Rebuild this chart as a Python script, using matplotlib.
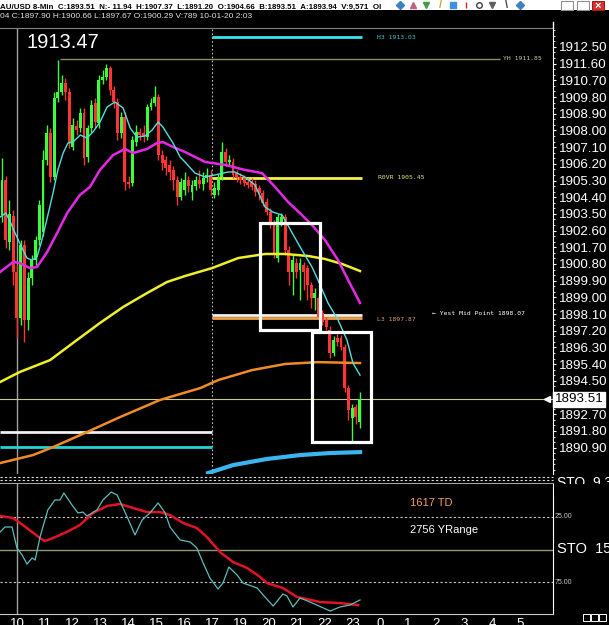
import matplotlib
matplotlib.use('Agg')
import matplotlib.pyplot as plt
from matplotlib.patches import Rectangle
from matplotlib.lines import Line2D
from matplotlib.ticker import MultipleLocator

plt.rcParams['font.family'] = ['Liberation Sans', 'DejaVu Sans']

W, H = 609, 625

# 8-min bars
opens = [1903.44, 1905.33, 1901.98, 1903.39, 1900.37, 1897.89, 1901.82, 1897.78, 1900.04, 1901.01,
         1902.09, 1902.52, 1906.40, 1907.86, 1905.49, 1909.75, 1910.07, 1910.56, 1910.07, 1907.11,
         1908.24, 1908.13, 1908.94, 1906.57, 1908.13, 1909.48, 1908.40, 1910.72, 1910.88, 1911.36,
         1910.18, 1909.53, 1907.86, 1908.72, 1905.22, 1905.16, 1907.37, 1907.91, 1907.86, 1907.64,
         1909.26, 1909.48, 1909.80, 1906.67, 1906.40, 1906.14, 1905.87, 1905.33, 1904.41, 1904.79,
         1905.33, 1904.68, 1905.00, 1905.33, 1905.11, 1905.43, 1905.60, 1904.52, 1904.79, 1905.49,
         1906.84, 1906.30, 1906.30, 1905.70, 1905.49, 1905.43, 1905.22, 1905.22, 1905.11, 1904.90,
         1904.63, 1904.14, 1903.60, 1902.90, 1901.12, 1903.06, 1903.33, 1901.55, 1900.37, 1900.85,
         1900.47, 1900.74, 1900.58, 1899.67, 1898.97, 1898.97, 1898.16, 1897.78, 1897.24, 1896.00,
         1896.81, 1896.81, 1896.32, 1894.11, 1892.50, 1893.09, 1892.28]
highs = [1906.51, 1905.54, 1904.25, 1903.71, 1900.74, 1902.09, 1902.09, 1900.37, 1901.28, 1902.31,
         1904.25, 1906.94, 1908.29, 1908.13, 1910.07, 1911.80, 1910.99, 1910.83, 1910.29, 1908.67,
         1908.56, 1909.21, 1909.21, 1908.29, 1909.64, 1909.75, 1910.99, 1911.26, 1911.58, 1911.47,
         1910.39, 1909.75, 1908.99, 1908.99, 1905.54, 1907.70, 1908.29, 1908.13, 1908.29, 1909.42,
         1909.75, 1910.39, 1909.96, 1906.94, 1906.62, 1906.40, 1906.08, 1905.54, 1905.43, 1905.76,
         1905.54, 1905.33, 1905.54, 1905.87, 1905.76, 1905.97, 1905.87, 1905.22, 1905.65, 1907.37,
         1907.05, 1906.67, 1906.51, 1905.87, 1905.70, 1905.60, 1905.43, 1905.43, 1905.33, 1905.06,
         1904.79, 1904.36, 1903.82, 1903.17, 1903.49, 1903.55, 1903.49, 1901.77, 1901.28, 1901.12,
         1901.12, 1900.91, 1900.74, 1899.83, 1899.50, 1899.13, 1898.32, 1897.94, 1897.46, 1896.92,
         1897.02, 1896.97, 1896.49, 1894.28, 1893.25, 1893.25, 1893.90]
lows = [1903.06, 1901.66, 1901.55, 1899.67, 1896.81, 1897.51, 1896.59, 1897.24, 1899.67, 1900.74,
        1901.82, 1902.31, 1906.14, 1905.22, 1905.33, 1909.53, 1909.91, 1909.64, 1907.05, 1906.94,
        1907.75, 1907.91, 1906.14, 1906.30, 1907.91, 1908.13, 1908.13, 1910.50, 1910.72, 1909.91,
        1909.21, 1907.48, 1907.59, 1904.79, 1904.90, 1905.00, 1907.16, 1907.48, 1907.37, 1907.48,
        1909.10, 1909.32, 1906.40, 1905.87, 1905.60, 1905.33, 1904.79, 1903.98, 1904.25, 1904.52,
        1904.68, 1904.25, 1904.79, 1904.90, 1904.79, 1905.22, 1904.52, 1904.36, 1904.52, 1905.33,
        1906.08, 1906.14, 1905.43, 1905.22, 1905.11, 1905.00, 1904.90, 1904.79, 1904.46, 1904.25,
        1903.92, 1903.44, 1902.74, 1901.12, 1900.91, 1902.85, 1901.28, 1899.67, 1899.13, 1900.04,
        1898.86, 1899.40, 1898.86, 1898.43, 1898.32, 1897.78, 1897.51, 1897.24, 1895.73, 1895.84,
        1896.38, 1896.16, 1893.90, 1892.39, 1891.20, 1892.17, 1891.96]
closes = [1905.33, 1902.09, 1903.49, 1900.37, 1897.89, 1901.82, 1897.78, 1900.04, 1901.01, 1902.09,
          1903.98, 1906.40, 1907.86, 1905.49, 1909.75, 1910.07, 1910.56, 1910.07, 1907.37, 1908.29,
          1908.02, 1908.94, 1906.51, 1908.13, 1909.37, 1908.45, 1910.72, 1910.88, 1911.36, 1910.18,
          1909.53, 1907.86, 1908.72, 1905.22, 1905.11, 1907.48, 1907.91, 1907.75, 1907.64, 1909.26,
          1909.48, 1909.80, 1906.67, 1906.24, 1905.97, 1905.76, 1905.33, 1904.41, 1905.22, 1905.33,
          1905.00, 1905.06, 1905.33, 1905.11, 1905.43, 1905.60, 1904.79, 1904.90, 1905.43, 1906.84,
          1906.30, 1906.40, 1905.60, 1905.43, 1905.33, 1905.16, 1905.06, 1904.95, 1904.68, 1904.63,
          1904.09, 1903.60, 1902.90, 1901.39, 1903.33, 1903.33, 1901.55, 1900.37, 1901.01, 1900.37,
          1900.85, 1900.37, 1899.67, 1898.97, 1899.23, 1897.94, 1897.67, 1897.40, 1896.00, 1896.70,
          1896.59, 1896.32, 1894.11, 1892.93, 1893.04, 1892.55, 1893.51]

# moving averages as drawn on the chart (bar position, price)
fast_x = [-0.5, 1, 2, 3.5, 5, 6.7, 8, 9.4, 10.7, 12, 13.7, 15, 16.4, 17.7, 19, 21, 22.8, 24.4, 26.3,
          28.2, 30.3, 32.5, 34.4, 36.2, 38.4, 40.3, 41.9, 43.2, 45.9, 47.8, 49.1, 51.8, 54.5, 57.2,
          60.7, 62.5, 65.2, 67.9, 70.6, 72.7, 75.2, 77.9, 80.5, 83.2, 84.8, 87.5, 90.2, 92.6, 94.2, 96.1]
fast_y = [1903.33, 1903.55, 1903.17, 1902.47, 1901.82, 1901.12, 1901.01, 1901.18, 1902.09, 1903.17,
          1904.63, 1905.87, 1906.78, 1907.32, 1907.37, 1907.75, 1907.59, 1907.91, 1908.45, 1909.26,
          1909.53, 1909.21, 1908.13, 1907.64, 1907.70, 1908.02, 1908.45, 1908.18, 1907.32, 1906.57,
          1906.30, 1905.70, 1905.49, 1905.60, 1905.76, 1905.76, 1905.49, 1905.06, 1903.87, 1903.60,
          1903.44, 1902.47, 1901.55, 1900.64, 1899.94, 1898.70, 1897.78, 1896.70, 1895.46, 1894.81]
mag_x = [-0.5, 3, 4.8, 7.5, 9.4, 12.1, 14.8, 17.5, 20.9, 23.6, 26.3, 29.8, 33, 35.2, 38.9, 41.6,
         43.2, 45.9, 49.1, 54.5, 59.9, 65.2, 69.8, 73.3, 76.8, 80.5, 83.2, 86.7, 90.2, 92.9, 96.1]
mag_y = [1900.37, 1900.91, 1900.85, 1900.58, 1900.64, 1901.44, 1902.47, 1903.55, 1904.52, 1904.95,
         1905.87, 1906.67, 1907.00, 1906.78, 1907.00, 1907.32, 1907.37, 1907.11, 1906.84, 1906.30,
         1906.14, 1905.87, 1905.70, 1904.95, 1904.14, 1903.44, 1902.90, 1902.09, 1901.01, 1899.94,
         1898.70]
yel_x = [-0.5, 4.8, 12.9, 20.1, 26.3, 32.5, 38.9, 44.3, 49.1, 56.4, 63.4, 70.6, 76, 82.2, 86.7, 91.3, 96.1]
yel_y = [1894.44, 1894.98, 1895.62, 1896.70, 1897.62, 1898.48, 1899.23, 1899.83, 1900.15, 1900.58,
         1901.12, 1901.34, 1901.34, 1901.23, 1901.07, 1900.80, 1900.42]
org_x = [-0.5, 8.3, 13.7, 22.8, 31.7, 42.4, 53.2, 58, 67.1, 76, 84.8, 96.1]
org_y = [1890.07, 1890.50, 1890.93, 1891.74, 1892.55, 1893.47, 1894.11, 1894.54, 1895.08,
         1895.41, 1895.51, 1895.46]
blu_x = [55.3, 62, 71.1, 80, 88, 96.1]
blu_y = [1889.53, 1889.96, 1890.29, 1890.50, 1890.61, 1890.66]

# horizontal levels
level_price = [1913.03, 1911.85, 1905.45, 1898.07, 1897.87, 1891.74, 1890.93]
level_start = [56.4, 15.6, 56.4, 56.4, 56.4, -0.6, -0.6]
level_end = [96.6, 133.7, 96.6, 96.6, 96.6, 56.4, 56.4]
level_color = ['#38e4f0', '#8c8c62', '#f4f04a', '#f0f0f0', '#f0a040', '#f0f0f0', '#22d4d4']
level_lw = [2, 1, 2, 2, 2, 2, 2]

label_text = ['H3 1913.03', 'YH 1911.85', 'R0VR 1905.45', 'L3 1897.87', '\u2190 Yest Mid Point 1898.07']
label_x = [100.7, 134.5, 100.9, 100.7, 115.4]
label_y = [1913.03, 1911.85, 1905.45, 1897.80, 1898.12]
label_color = ['#40c8d0', '#c8c890', '#e8e080', '#d8a060', '#ffffff']

# the two white boxes drawn on the chart
box_x0 = [69.3, 83.2]
box_x1 = [85.4, 99.1]
box_lo = [1897.24, 1891.20]
box_hi = [1903.01, 1897.13]

price_ticks = [1912.50, 1911.60, 1910.70, 1909.80, 1908.90, 1908.00, 1907.10, 1906.20, 1905.30,
               1904.40, 1903.50, 1902.60, 1901.70, 1900.80, 1899.90, 1899.00, 1898.10, 1897.20,
               1896.30, 1895.40, 1894.50, 1892.70, 1891.80, 1890.90]

# stochastic panel
sto_fast_x = [-0.5, 0.8, 2.7, 4.0, 5.4, 6.7, 8.1, 8.9, 10.2, 12.3, 14.2, 15.6, 16.6, 18.8, 20.4, 21.7,
              22.8, 25.5, 27.1, 29.3, 30.9, 33.6, 35.7, 37.6, 39.7, 41.9, 43.8, 45.1, 47.8, 50.5, 52.3,
              54.0, 55.8, 58.0, 59.3, 60.9, 63.1, 64.7, 68.5, 70.1, 72.8, 75.4, 76.5, 78.1, 80.0, 82.7,
              88.1, 90.7, 93.4, 96.1]
sto_fast_y = [36.5, 32.7, 32.7, 48.8, 54.2, 61.2, 56.5, 58.1, 40.4, 19.6, 11.9, 11.9, 6.5, 15.8, 21.9,
              21.2, 24.2, 19.6, 11.9, 5.8, 8.1, 25.0, 38.8, 27.3, 21.9, 14.2, 21.9, 32.7, 42.7, 44.2,
              48.8, 60.4, 71.9, 80.4, 75.8, 63.5, 69.6, 75.8, 79.6, 85.0, 93.5, 84.2, 85.8, 94.2, 87.3,
              90.4, 97.3, 94.2, 92.7, 88.8]
sto_slow_x = [-0.5, 3.0, 6.7, 10.2, 11.5, 13.7, 17.4, 20.9, 24.4, 28.2, 31.7, 35.2, 38.9, 42.4, 45.1,
              48.6, 52.3, 55.0, 58.5, 62.0, 65.8, 69.3, 71.1, 75.4, 79.2, 85.4, 90.7, 95.6]
sto_slow_y = [24.2, 25.8, 33.5, 41.2, 43.5, 41.2, 36.5, 31.2, 21.9, 16.5, 15.0, 18.1, 21.2, 21.2, 23.5,
              29.6, 33.5, 40.4, 51.9, 59.6, 64.2, 71.2, 75.8, 79.6, 86.5, 90.4, 91.2, 92.7]

hour_labels = ['10', '11', '12', '13', '14', '15', '16', '17', '19', '20', '21', '22', '23',
               '0', '1', '2', '3', '4', '5']


def fx(px):
    return px / W


def fy(py):
    return 1 - py / H


fig = plt.figure(figsize=(W / 100, H / 100), dpi=100, facecolor='black')

XMIN, XMAX = -0.54, 147.9
ax = fig.add_axes([0, fy(474), fx(553), (474 - 28) / H], facecolor='black')
ax.set_xlim(XMIN, XMAX)
ax.set_ylim(1889.48, 1913.52)

# candles
bars = range(len(closes))
cols = ['#3cff3c' if c >= o else '#ff3434' for o, c in zip(opens, closes)]
ax.vlines(bars, lows, highs, colors=cols, lw=1, zorder=3)
ax.bar(bars, [max(abs(c - o), 0.06) for o, c in zip(opens, closes)],
       bottom=[min(o, c) for o, c in zip(opens, closes)], width=0.78, color=cols, lw=0, zorder=3)

# averages
ax.plot(blu_x, blu_y, color='#3cb4f0', lw=3, zorder=4)
ax.plot(org_x, org_y, color='#f08c28', lw=1.8, zorder=4)
ax.plot(yel_x, yel_y, color='#f0f028', lw=1.8, zorder=4)
ax.plot(mag_x, mag_y, color='#e628e6', lw=1.8, zorder=4)
ax.plot(fast_x, fast_y, color='#50e0e0', lw=1, zorder=5)

for p, s, e, c, w in zip(level_price, level_start, level_end, level_color, level_lw):
    ax.hlines(p, s, e, colors=c, lw=w, zorder=2)
for t, x, y, c in zip(label_text, label_x, label_y, label_color):
    ax.text(x, y, t, color=c, fontsize=4.6, va='center', family=['DejaVu Sans Mono'])

ax.axhline(closes[-1], color='#c8c890', lw=0.8, zorder=2)
ax.axvline(4.0, color='#a0a0a0', lw=1, zorder=1)
ax.axvline(56.4, color='#c0c0c0', lw=0.8, ls=(0, (1.5, 2)), zorder=1)

for x0, x1, lo, hi in zip(box_x0, box_x1, box_lo, box_hi):
    ax.add_patch(Rectangle((x0, lo), x1 - x0, hi - lo, fill=False, ec='white', lw=2.3, zorder=6))

ax.plot(XMAX - 1.7, closes[-1], marker='<', color='white', ms=4, zorder=6)

ax.yaxis.tick_right()
ax.set_yticks(price_ticks)
ax.set_yticklabels(['%.2f' % v for v in price_ticks])
ax.yaxis.set_minor_locator(MultipleLocator(0.3))
ax.tick_params(axis='y', which='major', colors='white', labelsize=9.6, length=2.5, pad=1.5)
ax.tick_params(axis='y', which='minor', colors='white', length=1.5)
ax.set_xticks([])
for s in ['left', 'bottom']:
    ax.spines[s].set_visible(False)
ax.spines['top'].set_color('#808080')
ax.spines['right'].set_color('white')
ax.text(1.003, closes[-1], '%.2f' % closes[-1], transform=ax.get_yaxis_transform(), color='black',
        fontsize=9.6, va='center', ha='left', clip_on=False,
        bbox=dict(boxstyle='square,pad=0.12', fc='white', ec='white'))

# stochastic panel
ax2 = fig.add_axes([0, fy(614), fx(553), (614 - 483) / H], facecolor='black')
ax2.set_xlim(XMIN, XMAX)
ax2.set_ylim(99.6, -1.15)
ax2.axhline(25, color='#c8c8c8', lw=0.8, ls=(0, (2, 2)))
ax2.axhline(75, color='#c8c8c8', lw=0.8, ls=(0, (2, 2)))
ax2.axhline(50, color='#8c9c70', lw=1)
ax2.axvline(4.0, color='#a0a0a0', lw=1)
ax2.plot(sto_slow_x, sto_slow_y, color='#e01424', lw=1.8)
ax2.plot(sto_fast_x, sto_fast_y, color='#60bcbc', lw=0.9)
ax2.set_yticks([])
ax2.set_xticks([4.0 + 7.5 * k for k in range(len(hour_labels))])
ax2.set_xticklabels(hour_labels)
ax2.tick_params(axis='x', colors='white', labelsize=9.5, length=0, pad=3)
ax2.spines['left'].set_visible(False)
ax2.spines['top'].set_color('#a0a0a0')
ax2.spines['right'].set_color('white')
ax2.spines['bottom'].set_color('#c8c8c8')

# separator between the panels
for yy in (477, 480):
    fig.add_artist(Line2D([0, fx(553)], [fy(yy), fy(yy)], color='#e0e0e0', lw=0.8, ls=(0, (2, 2))))
fig.add_artist(Line2D([fx(553), fx(553)], [fy(22), fy(28)], color='white', lw=1))

# header bars
fig.add_artist(Rectangle((0, fy(10)), 1, 10 / H, fc='white', ec='none'))
hdr = ['Liberation Sans Narrow', 'Liberation Sans', 'DejaVu Sans']
fig.text(0, fy(8.5), 'AU/USD 8-Min  C:1893.51  N:- 11.94  H:1907.37  L:1891.20  O:1904.66  '
         'B:1893.51  A:1893.94  V:9,571  OI', color='black', fontsize=5.7, fontweight='bold',
         family=hdr, va='baseline')
fig.text(0, fy(16), '04 C:1897.90 H:1900.66 L:1897.67 O:1900.29 V:789 10-01-20 2:03',
         color='#e0e0e0', fontsize=6.0, family=hdr, va='center')

# toolbar icons and window buttons
icon_px = [400, 413, 426, 440, 453, 466, 479, 492, 506, 520]
icon_col = ['#4080c0', '#c06080', '#40a040', '#e0a030', '#4090e0', '#e02020', '#404040', '#606060',
            '#404040', '#4080c0']
icon_mk = ['D', '^', 'v', '/', 's', '|', 'o', 'v', '\\', 'D']
for px, c, m in zip(icon_px, icon_col, icon_mk):
    if m in ('/', '\\'):
        fig.text(fx(px), fy(5), m, color=c, fontsize=8, ha='center', va='center', fontweight='bold')
    else:
        fig.add_artist(Line2D([fx(px)], [fy(5)], marker=m, color=c, ms=4, mfc='none' if m == 'o' else c))
for px in (567, 583):
    fig.add_artist(Rectangle((fx(px - 6), fy(10)), 12 / W, 9 / H, fc='white', ec='#909090', lw=0.8))
fig.add_artist(Rectangle((fx(592), fy(10)), 12 / W, 9 / H, fc='#e03030', ec='#902020', lw=0.8))
fig.text(fx(598), fy(5.5), '\u00d7', color='white', fontsize=8, ha='center', va='center', fontweight='bold')

fig.text(fx(27), fy(42), '1913.47', color='white', fontsize=14.5, va='center')

# right column of the stochastic panel
fig.text(fx(557), fy(483), 'STO  9,3', color='white', fontsize=10, va='center', zorder=3)
fig.add_artist(Rectangle((fx(554), fy(495)), 55 / W, 11 / H, fc='black', ec='none', zorder=4))
fig.text(fx(555), fy(517), '25.00', color='#c8c8c8', fontsize=5, va='center', zorder=5)
fig.text(fx(555), fy(582), '75.00', color='#c8c8c8', fontsize=5, va='center', zorder=5)
fig.text(fx(557), fy(549), 'STO  15,', color='white', fontsize=10.5, va='center', zorder=5)
fig.text(fx(410), fy(503), '1617 TD', color='#f0a060', fontsize=8, va='center')
fig.text(fx(410), fy(530), '2756 YRange', color='white', fontsize=8, va='center')
for px in (586, 594, 602):
    fig.add_artist(Rectangle((fx(px - 3.5), fy(621)), 7 / W, 7 / H, fc='black', ec='white', lw=0.7))

fig.savefig('out.png', dpi=100, facecolor='black')
